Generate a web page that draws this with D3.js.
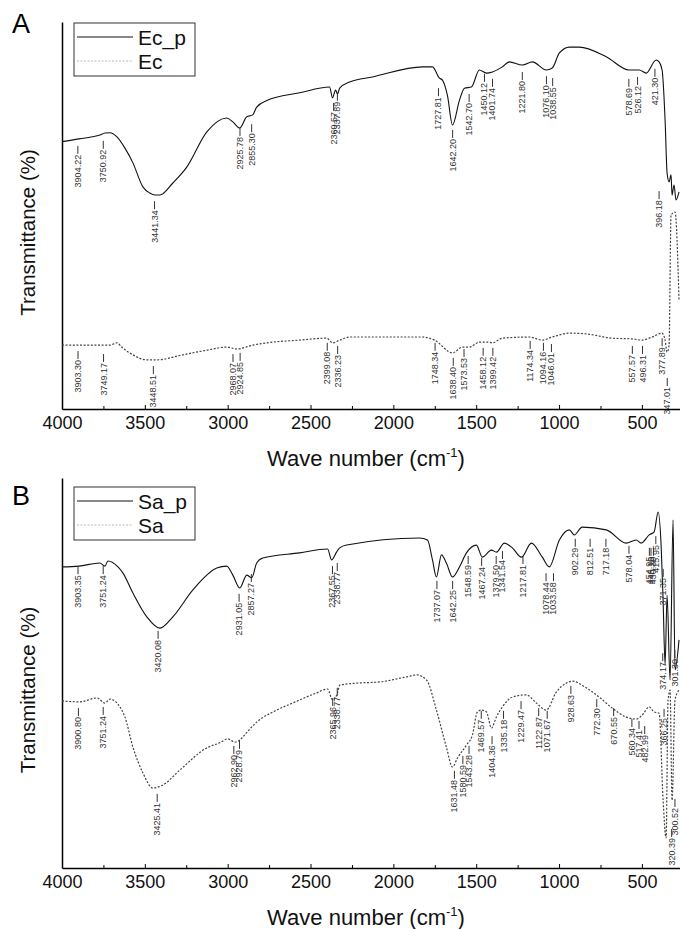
<!DOCTYPE html>
<html>
<head>
<meta charset="utf-8">
<script src="https://cdn.jsdelivr.net/npm/d3@7"></script>
<style>
  body { margin: 0; background: #fff; }
  text { font-family: "Liberation Sans", Arial, sans-serif; }
</style>
</head>
<body>
<svg id="chart"></svg>
<script>
// x ticks (wave number, cm-1)
const majorTicks = [4000, 3500, 3000, 2500, 2000, 1500, 1000, 500];
const minorTicks = [3750, 3250, 2750, 2250, 1750, 1250, 750];

// Panel A: Ec_p (solid) and Ec (dashed), [wave number, transmittance]
const ecP = [[4000,69.1],[3898,69.8],[3771,70.8],[3741,71.3],[3711,71.4],[3668,70.3],[3620,67.4],[3572,63.6],
  [3512,57.4],[3470,55.8],[3440,55.3],[3409,55.3],[3331,58.4],[3247,62.5],[3126,71.6],[3006,75.2],[2969,74.2],
  [2927,72.6],[2885,75.5],[2849,76.0],[2825,78.0],[2764,79.7],[2566,81.7],[2385,83.2],[2367,80.4],[2349,82.4],
  [2337,81.4],[2324,82.9],[2264,84.5],[2126,85.8],[1824,88.4],[1764,88.4],[1722,85.5],[1704,85.0],[1674,81.1],
  [1643,73.4],[1601,79.8],[1571,82.9],[1529,83.2],[1481,87.6],[1438,86.8],[1402,87.1],[1342,88.4],[1300,89.7],
  [1221,88.9],[1161,89.7],[1077,87.6],[1041,88.1],[998,92.0],[938,93.5],[878,93.5],[715,91.0],[577,87.6],
  [516,87.6],[474,86.8],[414,90.2],[396,89.7],[378,87.6],[360,74.7],[348,61.0],[336,58.7],[324,60.5],[318,55.3],
  [306,57.9],[294,54.0],[276,56.1]];
const ec = [[4000,16.5],[3711,16.5],[3668,17.1],[3640,16.0],[3572,14.0],[3488,12.7],[3427,12.7],[3271,14.0],
  [3126,15.2],[3006,16.0],[2945,15.5],[2849,16.5],[2764,17.1],[2566,17.8],[2403,18.3],[2367,17.1],[2324,17.8],
  [2264,18.6],[1824,18.6],[1752,17.8],[1643,14.5],[1583,16.0],[1541,16.0],[1481,17.3],[1432,17.3],[1402,17.1],
  [1342,18.3],[1179,18.6],[1101,17.8],[1041,18.6],[938,19.6],[836,19.4],[679,18.3],[558,18.1],[498,17.8],
  [438,18.6],[378,19.6],[360,17.8],[348,14.7],[336,16.5],[324,50.1],[300,50.9],[276,28.2]];

// Panel B: Sa_p (solid) and Sa (dashed)
const saP = [[4000,77.2],[3898,77.4],[3771,78.2],[3741,77.4],[3723,78.7],[3662,77.2],[3632,75.6],[3572,70.5],
  [3488,64.4],[3409,61.5],[3331,64.4],[3210,71.3],[3066,76.9],[3006,77.4],[2969,75.1],[2927,71.8],[2885,75.1],
  [2855,74.4],[2825,78.2],[2789,79.5],[2566,80.8],[2397,81.8],[2373,79.0],[2343,81.0],[2324,82.1],[2282,82.8],
  [1842,84.6],[1794,84.1],[1764,79.0],[1740,74.6],[1710,80.3],[1680,78.2],[1643,74.6],[1601,77.2],[1559,80.8],
  [1499,82.8],[1463,79.7],[1408,81.5],[1378,81.0],[1330,83.3],[1282,82.1],[1227,79.7],[1167,83.3],[1101,79.7],
  [1059,77.2],[998,84.1],[938,86.7],[908,85.4],[860,87.4],[715,86.7],[595,83.3],[534,84.1],[504,83.3],
  [456,85.4],[426,86.2],[402,91.3],[384,82.8],[372,68.7],[360,52.1],[348,70.0],[330,48.2],[312,89.2],
  [300,50.8],[276,58.5]];
const sa = [[4000,42.8],[3892,42.6],[3789,43.6],[3741,42.3],[3711,43.3],[3650,41.3],[3620,38.7],[3572,31.0],
  [3512,24.4],[3452,20.5],[3391,21.3],[3289,25.1],[3126,30.8],[3048,32.1],[3000,33.1],[2957,32.3],[2927,32.8],
  [2909,33.6],[2825,37.4],[2704,40.5],[2608,42.3],[2463,44.9],[2397,45.9],[2367,43.1],[2337,44.9],[2324,46.9],
  [2222,47.4],[2083,47.7],[1921,49.0],[1860,49.5],[1800,48.2],[1740,40.5],[1680,31.0],[1643,25.9],[1613,28.2],
  [1559,31.5],[1523,34.1],[1493,40.0],[1469,40.5],[1438,40.0],[1408,35.9],[1378,38.7],[1342,41.3],[1282,43.8],
  [1197,44.4],[1137,42.3],[1077,40.5],[1017,45.1],[956,47.4],[920,47.9],[836,46.2],[757,43.8],[679,41.0],
  [595,38.7],[534,38.2],[498,39.2],[456,41.3],[426,40.0],[396,39.7],[372,17.4],[354,7.7],[342,43.1],
  [330,45.6],[318,17.4],[300,43.1],[276,45.6]];

// Peak labels: [label, transmittance at top of leader]
const ecPPeaks = [["3904.22",68.0],["3750.92",69.3],["3441.34",53.7],["2925.78",72.6],["2855.30",73.6],
  ["2360.57",79.1],["2337.89",81.7],["1727.81",82.9],["1642.20",72.1],["1542.70",81.4],["1450.12",86.6],
  ["1401.74",85.3],["1221.80",87.1],["1076.10",86.0],["1038.55",85.5],["578.69",85.3],["526.12",85.8],
  ["421.30",87.9],["396.18",56.3]];
const ecPeaks = [["3903.30",15.0],["3749.17",14.2],["3448.51",11.1],["2968.07",14.2],["2924.85",14.5],
  ["2399.08",17.1],["2336.23",16.3],["1748.34",17.1],["1638.40",13.2],["1573.53",15.5],["1458.12",15.8],
  ["1399.42",15.8],["1174.34",17.6],["1094.16",17.1],["1046.01",16.8],["557.57",16.3],["496.31",16.3],
  ["377.89",18.3],["347.01",8.0]];
const saPPeaks = [["3903.35",77.4],["3751.24",77.4],["3420.08",60.8],["2931.05",70.3],["2857.27",75.4],
  ["2367.55",77.4],["2338.77",78.2],["1737.07",73.6],["1642.25",73.6],["1548.59",80.0],["1467.24",79.5],
  ["1379.50",80.0],["1341.54",81.3],["1217.81",80.0],["1078.44",75.6],["1033.58",75.6],["902.29",84.4],
  ["812.51",84.4],["717.18",84.4],["578.04",82.6],["454.95",82.1],["445.10",82.1],["430.30",82.1],
  ["415.95",85.1],["371.35",76.7],["374.17",55.1],["301.30",55.9]];
const saPeaks = [["3900.80",41.0],["3751.24",41.3],["3425.41",19.0],["2962.90",31.3],["2928.79",32.6],
  ["2365.96",43.6],["2338.77",46.2],["1631.48",24.9],["1580.59",28.7],["1543.28",31.3],["1469.57",40.3],
  ["1404.36",33.8],["1335.18",40.3],["1229.47",42.8],["1122.87",41.0],["1071.67",40.3],["928.63",46.7],
  ["772.30",43.3],["670.55",41.0],["560.34",38.2],["517.41",37.7],["482.99",36.4],["366.25",40.8],
  ["320.39",10.0],["300.52",17.7]];

const W = 680, H = 929;
const svg = d3.select("#chart").attr("width", W).attr("height", H);
svg.append("rect").attr("width", W).attr("height", H).attr("fill", "#fff");

const x = d3.scaleLinear().domain([4000, 270]).range([62, 680]);

const panels = [
  { tag: "A", tagY: 33, top: 22, bottom: 409, solid: ecP, dashed: ec, solidPeaks: ecPPeaks, dashedPeaks: ecPeaks,
    names: ["Ec_p", "Ec"], legendTop: 23 },
  { tag: "B", tagY: 505, top: 478, bottom: 868, solid: saP, dashed: sa, solidPeaks: saPPeaks, dashedPeaks: saPeaks,
    names: ["Sa_p", "Sa"], legendTop: 487 }
];

panels.forEach(p => {
  const y = d3.scaleLinear().domain([0, 100]).range([p.bottom, p.top]);
  const g = svg.append("g");

  // Axes
  g.append("g")
    .attr("transform", `translate(0,${p.bottom})`)
    .call(d3.axisBottom(x).tickValues(minorTicks).tickSize(-3).tickSizeOuter(0).tickFormat(""))
    .call(a => a.select(".domain").remove());

  const xAxis = g.append("g")
    .attr("transform", `translate(0,${p.bottom})`)
    .call(d3.axisBottom(x).tickValues(majorTicks).tickSize(-4).tickSizeOuter(0).tickPadding(7).tickFormat(d3.format("d")));
  xAxis.select(".domain").attr("stroke-width", 1.5);
  xAxis.selectAll(".tick text").attr("font-size", 18).attr("fill", "#111")
    .attr("font-family", "'Liberation Sans', Arial, sans-serif");

  g.append("g")
    .attr("transform", "translate(62,0)")
    .call(d3.axisLeft(y).tickValues([]).tickSizeOuter(0))
    .select(".domain").attr("stroke-width", 1.5);

  // Curves
  const line = d3.line()
    .x(d => x(d[0]))
    .y(d => y(d[1]))
    .curve(d3.curveMonotoneX);

  g.append("path").datum(p.dashed)
    .attr("fill", "none")
    .attr("stroke", "#444")
    .attr("stroke-width", 1.2)
    .attr("stroke-dasharray", "2,1.6")
    .attr("d", line);

  g.append("path").datum(p.solid)
    .attr("fill", "none")
    .attr("stroke", "#111")
    .attr("stroke-width", 1.1)
    .attr("d", line);

  // Peak labels
  const peaks = p.solidPeaks.concat(p.dashedPeaks);
  const pk = g.selectAll(".peak").data(peaks).enter().append("g").attr("class", "peak");
  pk.append("line")
    .attr("x1", d => x(+d[0])).attr("x2", d => x(+d[0]))
    .attr("y1", d => y(d[1])).attr("y2", d => y(d[1]) + 8)
    .attr("stroke", "#333").attr("stroke-width", 1);
  pk.append("text")
    .attr("transform", d => `translate(${x(+d[0])},${y(d[1]) + 9}) rotate(-90)`)
    .attr("text-anchor", "end")
    .attr("dominant-baseline", "central")
    .attr("font-size", 9)
    .attr("fill", "#333")
    .text(d => d[0]);

  // Axis titles
  const xt = g.append("text")
    .attr("x", 366).attr("y", p.bottom + 57)
    .attr("text-anchor", "middle")
    .attr("font-size", 22)
    .attr("fill", "#111");
  xt.append("tspan").text("Wave number (cm");
  xt.append("tspan").text("-1").attr("font-size", 13).attr("dy", -9);
  xt.append("tspan").text(")").attr("dy", 9);

  g.append("text")
    .attr("transform", `translate(35,${(p.top + p.bottom) / 2 + 17}) rotate(-90)`)
    .attr("text-anchor", "middle")
    .attr("font-size", 20.5)
    .attr("fill", "#111")
    .text("Transmittance (%)");

  // Panel tag
  g.append("text")
    .attr("x", 12).attr("y", p.tagY)
    .attr("font-size", 27)
    .attr("fill", "#000")
    .text(p.tag);

  // Legend
  const lg = g.append("g").attr("transform", `translate(74,${p.legendTop})`);
  lg.append("rect").attr("width", 121).attr("height", 53)
    .attr("fill", "#fff").attr("stroke", "#333").attr("stroke-width", 1);
  lg.append("line").attr("x1", 3).attr("x2", 59).attr("y1", 14).attr("y2", 14)
    .attr("stroke", "#111").attr("stroke-width", 1.2);
  lg.append("line").attr("x1", 3).attr("x2", 59).attr("y1", 38).attr("y2", 38)
    .attr("stroke", "#bbb").attr("stroke-width", 1).attr("stroke-dasharray", "2,1.5");
  lg.selectAll(".lt").data(p.names).enter().append("text")
    .attr("x", 64).attr("y", (d, i) => 14 + i * 24)
    .attr("dominant-baseline", "central")
    .attr("font-size", 21)
    .attr("fill", "#111")
    .text(d => d);
});
</script>
</body>
</html>
